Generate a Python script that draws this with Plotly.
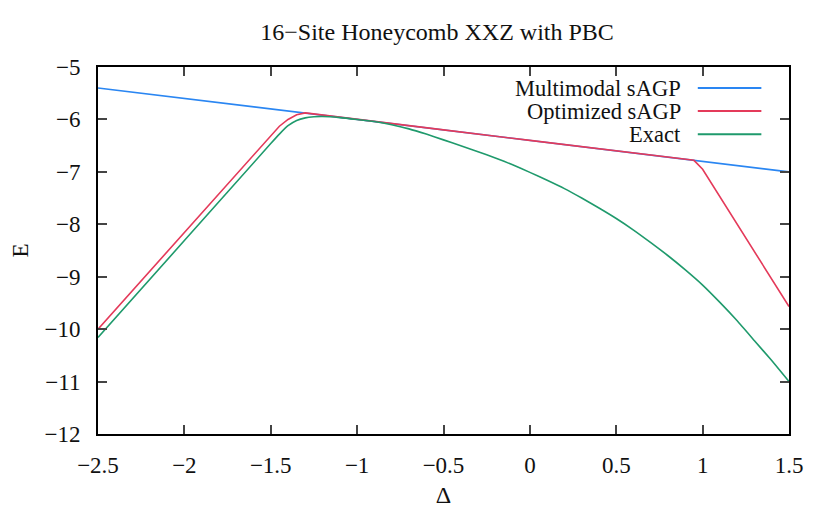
import plotly.graph_objects as go

# ---- data ----
delta_multi = [-2.5, -1.0, 0.0, 1.5]
E_multi = [-5.4, -6.0, -6.4, -7.0]

delta_opt = [-2.5, -2.25, -2.0, -1.75, -1.5, -1.45, -1.4, -1.35, -1.3,
             -1.0, -0.5, 0.0, 0.5, 0.95, 1.0, 1.25, 1.5]
E_opt = [-10.0, -9.08, -8.15, -7.22, -6.30, -6.13, -6.00, -5.91, -5.875,
         -6.0, -6.2, -6.4, -6.6, -6.78, -6.95, -8.25, -9.57]

delta_exact = [-2.5, -2.0, -1.5, -1.45, -1.4, -1.35, -1.3, -1.25, -1.2, -1.1,
               -1.0, -0.9, -0.8, -0.7, -0.6, -0.5, -0.4, -0.3, -0.2, -0.1,
               0.0, 0.1, 0.2, 0.3, 0.4, 0.5, 0.6, 0.7, 0.8, 0.9,
               1.0, 1.1, 1.2, 1.3, 1.4, 1.5]
E_exact = [-10.16, -8.31, -6.46, -6.28, -6.12, -6.02, -5.97, -5.95, -5.945, -5.965,
           -6.0, -6.04, -6.10, -6.18, -6.28, -6.39, -6.50, -6.615, -6.735, -6.865,
           -7.01, -7.16, -7.32, -7.50, -7.69, -7.89, -8.11, -8.35, -8.60, -8.87,
           -9.16, -9.49, -9.84, -10.22, -10.60, -11.0]

series_names = ["Multimodal sAGP", "Optimized sAGP", "Exact"]
series_colors = ["#2a86f2", "#e43a5a", "#1f9a6c"]

x_ticks = [-2.5, -2, -1.5, -1, -0.5, 0, 0.5, 1, 1.5]
x_ticktext = ["\u22122.5", "\u22122", "\u22121.5", "\u22121", "\u22120.5", "0", "0.5", "1", "1.5"]
y_ticks = [-12, -11, -10, -9, -8, -7, -6, -5]
y_ticktext = ["\u221212", "\u221211", "\u221210", "\u22129", "\u22128", "\u22127", "\u22126", "\u22125"]

title_text = "16\u2212Site Honeycomb XXZ with PBC"

FONT = "Liberation Serif"

fig = go.Figure()
shapes_kw = [dict(), dict(), dict(shape="spline", smoothing=0.4)]
for xs, ys, name, col, kw in zip([delta_multi, delta_opt, delta_exact],
                                 [E_multi, E_opt, E_exact], series_names,
                                 series_colors, shapes_kw):
    fig.add_trace(go.Scatter(x=xs, y=ys, mode="lines", name=name,
                             line=dict(color=col, width=1.6, **kw), showlegend=False))

# custom gnuplot-style legend (text right, sample line to its right)
leg_y = [0.9426, 0.8798, 0.8169]
for name, col, yy in zip(series_names, series_colors, leg_y):
    fig.add_annotation(xref="paper", yref="paper", x=0.847, y=yy, text=name,
                       showarrow=False, xanchor="right", yanchor="middle",
                       font=dict(family=FONT, size=22.5, color="#111"))
    fig.add_shape(type="line", xref="paper", yref="paper", x0=0.868, x1=0.960,
                  y0=yy, y1=yy, line=dict(color=col, width=2))

axis_common = dict(showline=True, linecolor="black", linewidth=2, mirror="ticks",
                   ticks="inside", ticklen=9, tickwidth=1.5, tickcolor="#444",
                   showgrid=False, zeroline=False, automargin=False,
                   tickfont=dict(family=FONT, size=23, color="#111"))

fig.update_xaxes(range=[-2.5, 1.5], tickvals=x_ticks, ticktext=x_ticktext,
                 ticklabelstandoff=9,
                 title=dict(text="\u0394", font=dict(family=FONT, size=24, color="#111"),
                            standoff=10),
                 **axis_common)
fig.update_yaxes(range=[-12, -5], tickvals=y_ticks, ticktext=y_ticktext,
                 ticklabelstandoff=11,
                 title=dict(text="E", font=dict(family=FONT, size=23, color="#111"),
                            standoff=14),
                 **axis_common)

fig.update_layout(
    template="none",
    width=822, height=500,
    margin=dict(l=90, r=41, t=59, b=74),
    paper_bgcolor="white", plot_bgcolor="white",
    title=dict(text=title_text, x=0.522, xanchor="center", y=0.952, yanchor="middle",
               font=dict(family=FONT, size=24, color="#111")),
)

fig.write_html("out.html")
